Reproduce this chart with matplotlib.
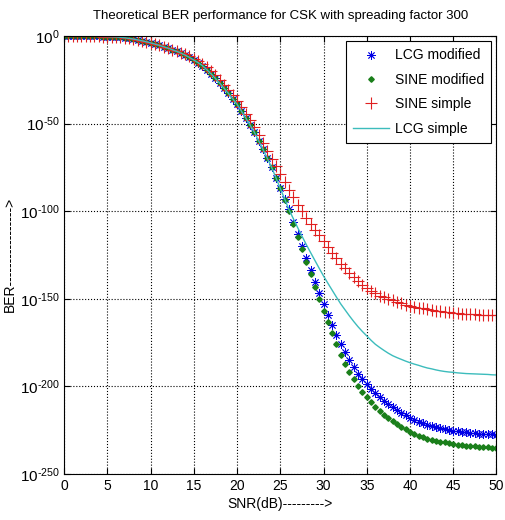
import numpy as np
import matplotlib
matplotlib.use('Agg')
import matplotlib.pyplot as plt
from matplotlib.ticker import FixedLocator, FuncFormatter

plt.rcParams['font.family'] = ['Liberation Sans', 'DejaVu Sans']
plt.rcParams['mathtext.fontset'] = 'custom'
plt.rcParams['mathtext.rm'] = 'Liberation Sans'
plt.rcParams['mathtext.default'] = 'rm'

# SNR axis (dB)
snr = np.arange(0, 50.5, 0.5)

# log10(BER)
early = [0.0, -0.02, -0.04, -0.07, -0.1, -0.14, -0.19, -0.24, -0.3, -0.36, -0.43, -0.51, -0.6,
         -0.82, -1.1, -1.4, -1.8, -2.3, -2.8, -3.4, -4.0, -4.7, -5.4, -6.2, -7.0]

sine_simple = early + [
    -7.8, -8.6, -9.5, -10.5, -11.7, -13.0, -14.4, -16.0, -18.0, -20.1, -22.5, -25.0,
    -27.9, -30.8, -33.9, -37.0, -40.7, -44.4, -48.2, -52.0, -56.5, -61.0, -65.5, -70.0,
    -74.5, -79.0, -83.5, -88.0, -92.2, -96.3, -100.2, -104.0, -107.4, -110.7, -113.9, -117.0,
    -120.4, -123.7, -126.9, -130.0, -132.7, -135.3, -137.7, -140.0, -142.0, -143.8, -145.5, -147.0,
    -148.2, -149.2, -150.1, -151.0, -151.8, -152.6, -153.3, -154.0, -154.5, -155.0, -155.5, -156.0,
    -156.4, -156.8, -157.2, -157.5, -157.8, -158.0, -158.3, -158.5, -158.7, -158.8, -158.9, -159.0,
    -159.1, -159.2, -159.4, -159.5]

mid = [-7.9, -8.8, -9.8, -11.0, -12.3, -13.8, -15.3, -17.0, -19.3, -21.7, -24.3, -27.0,
       -29.9, -32.8, -35.9, -39.0, -42.9, -46.8, -50.9, -55.0, -59.9, -64.8, -69.9, -75.0]

lcg_modified = early + mid + [
    -80.9, -86.8, -92.9, -99.0, -106.0, -113.0, -120.0, -127.0, -133.6, -140.2, -146.7, -153.0,
    -159.0, -164.9, -170.6, -176.0, -180.6, -185.0, -189.1, -193.0, -196.0, -198.8, -201.5, -204.0,
    -206.2, -208.3, -210.2, -212.0, -213.6, -215.1, -216.6, -218.0, -219.1, -220.1, -221.1, -222.0,
    -222.7, -223.4, -224.0, -224.5, -224.9, -225.3, -225.7, -226.0, -226.3, -226.5, -226.8, -227.0,
    -227.1, -227.3, -227.4, -227.5]

sine_modified = early + mid + [
    -81.0, -87.0, -93.4, -100.0, -107.3, -114.6, -121.8, -129.0, -136.1, -143.2, -150.1, -157.0,
    -163.4, -169.6, -175.9, -182.0, -187.0, -191.7, -196.0, -200.0, -203.2, -206.2, -209.2, -212.0,
    -214.2, -216.2, -218.2, -220.0, -221.6, -223.1, -224.6, -226.0, -227.1, -228.1, -229.1, -230.0,
    -230.6, -231.1, -231.6, -232.0, -232.4, -232.8, -233.2, -233.5, -233.8, -234.0, -234.3, -234.5,
    -234.6, -234.8, -234.9, -235.0]

lcg_simple = early + mid + [
    -81.0, -87.0, -93.0, -99.0, -104.2, -109.3, -114.2, -119.0, -123.6, -128.1, -132.6, -137.0,
    -141.1, -145.1, -149.1, -153.0, -156.4, -159.8, -163.0, -166.0, -168.7, -171.2, -173.7, -176.0,
    -177.8, -179.5, -181.1, -182.5, -183.6, -184.6, -185.6, -186.5, -187.3, -188.0, -188.8, -189.5,
    -190.0, -190.6, -191.1, -191.5, -191.8, -192.0, -192.3, -192.5, -192.7, -192.8, -192.9, -193.0,
    -193.1, -193.2, -193.4, -193.5]

ytick_exp = [0, -50, -100, -150, -200, -250]
xticks = list(range(0, 51, 5))

fig = plt.figure(figsize=(5.05, 5.2), dpi=100)
ax = fig.add_axes([0.127, 0.0885, 0.856, 0.8425])

ax.semilogy(snr, 10.0 ** np.array(lcg_modified), linestyle='none', marker=(8, 2, 0),
            color='#0000e6', markersize=6, markeredgewidth=0.6, label='LCG modified')
ax.semilogy(snr, 10.0 ** np.array(sine_modified), linestyle='none', marker='D',
            color='#1a7f1a', markersize=2.8, label='SINE modified')
ax.semilogy(snr, 10.0 ** np.array(sine_simple), linestyle='none', marker='+',
            color='#e02020', markersize=8, markeredgewidth=0.8, label='SINE simple')
ax.semilogy(snr, 10.0 ** np.array(lcg_simple), linestyle='-', color='#3cbcbc',
            linewidth=1.0, label='LCG simple')

ax.set_xlim(0, 50)
ax.set_ylim(1e-250, 1e0)
ax.set_xticks(xticks)
ax.yaxis.set_major_locator(FixedLocator([10.0 ** e for e in ytick_exp]))
ax.yaxis.set_minor_locator(FixedLocator([]))
ax.yaxis.set_major_formatter(
    FuncFormatter(lambda v, p: r'$10^{\text{%d}}$' % round(np.log10(v))))

ax.tick_params(direction='in', top=True, right=True, labelsize=10, length=4, width=0.8)
ax.tick_params(axis='y', pad=3, labelsize=11)
ax.grid(True, which='major', linestyle=':', color='black', linewidth=0.8)
for s in ax.spines.values():
    s.set_linewidth(0.8)

ax.set_title('Theoretical BER performance for CSK with spreading factor 300', fontsize=9.5, pad=12)
ax.set_xlabel('SNR(dB)--------->', fontsize=10, labelpad=3)
ax.set_ylabel('BER----------------->', fontsize=10)
ax.yaxis.set_label_coords(-0.11, 0.5)

leg = ax.legend(loc='upper right', fontsize=10, fancybox=False, framealpha=1,
                edgecolor='black', borderaxespad=0.4, handlelength=2.6, labelspacing=0.75,
                borderpad=0.5, handletextpad=0.4)
leg.get_frame().set_linewidth(0.8)

fig.savefig('out.png', dpi=100)
